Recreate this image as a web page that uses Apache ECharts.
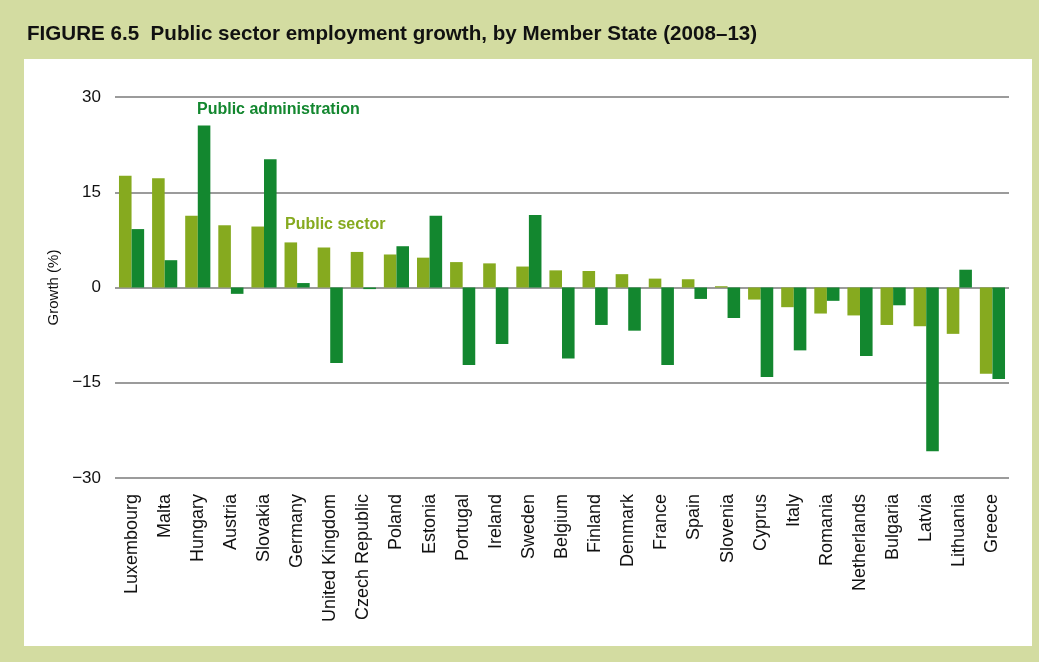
<!DOCTYPE html>
<html>
<head>
<meta charset="utf-8">
<script src="https://cdn.jsdelivr.net/npm/echarts@6/dist/echarts.min.js"></script>
<style>
  html, body { margin: 0; padding: 0; background: #d3dca1; }
  #main { width: 1039px; height: 662px; }
</style>
</head>
<body>
<div id="main"></div>
<script>
// 国家（类别）
var countries = ['Luxembourg', 'Malta', 'Hungary', 'Austria', 'Slovakia', 'Germany',
  'United Kingdom', 'Czech Republic', 'Poland', 'Estonia', 'Portugal', 'Ireland',
  'Sweden', 'Belgium', 'Finland', 'Denmark', 'France', 'Spain', 'Slovenia', 'Cyprus',
  'Italy', 'Romania', 'Netherlands', 'Bulgaria', 'Latvia', 'Lithuania', 'Greece']
// Public sector
var publicSector = [17.6, 17.2, 11.3, 9.8, 9.6, 7.1, 6.3, 5.6, 5.2, 4.7, 4.0, 3.8,
  3.3, 2.7, 2.6, 2.1, 1.4, 1.3, 0.2, -1.9, -3.1, -4.1, -4.4, -5.9, -6.1, -7.3, -13.6]
// Public administration
var publicAdmin = [9.2, 4.3, 25.5, -1.0, 20.2, 0.7, -11.9, -0.25, 6.5, 11.3, -12.2, -8.9,
  11.4, -11.2, -5.9, -6.8, -12.2, -1.8, -4.8, -14.1, -9.9, -2.1, -10.8, -2.8, -25.8, 2.8, -14.4]
// y轴刻度
var yTicks = [-30, -15, 0, 15, 30]

var chart = echarts.init(document.getElementById('main'))

var option = {
  animation: false,
  title: {
    text: 'FIGURE 6.5  Public sector employment growth, by Member State (2008\u201313)',
    left: 22,
    top: 19,
    textStyle: {
      fontFamily: 'Liberation Sans',
      fontWeight: 'bold',
      fontSize: 20.6,
      color: '#111'
    }
  },
  graphic: [
    // 白色面板
    {
      type: 'rect',
      z: -10,
      shape: { x: 24, y: 59, width: 1008, height: 587 },
      style: { fill: '#ffffff' }
    },
    {
      type: 'text',
      left: 197,
      top: 102,
      style: {
        text: 'Public administration',
        fill: '#13872f',
        font: 'bold 16px "Liberation Sans"'
      }
    },
    {
      type: 'text',
      left: 285,
      top: 217,
      style: {
        text: 'Public sector',
        fill: '#86aa1f',
        font: 'bold 16px "Liberation Sans"'
      }
    }
  ],
  grid: {
    left: 115,
    right: 30,
    top: 97,
    bottom: 184
  },
  xAxis: {
    type: 'category',
    data: countries,
    axisLine: { show: false, onZero: false },
    axisTick: { show: false },
    axisLabel: {
      rotate: 90,
      interval: 0,
      margin: 16,
      fontFamily: 'Liberation Sans',
      fontSize: 18,
      color: '#111'
    }
  },
  yAxis: {
    type: 'value',
    min: yTicks[0],
    max: yTicks[yTicks.length - 1],
    interval: 15,
    name: 'Growth (%)',
    nameLocation: 'middle',
    nameGap: 52,
    nameTextStyle: {
      fontFamily: 'Liberation Sans',
      fontSize: 15,
      color: '#111'
    },
    axisLine: { show: false },
    axisTick: { show: false },
    axisLabel: {
      margin: 14,
      fontFamily: 'Liberation Sans',
      fontSize: 17,
      color: '#111',
      formatter: function (v) { return v < 0 ? '\u2212' + Math.abs(v) : String(v) }
    },
    splitLine: { lineStyle: { color: '#7a7a7a', width: 1.5 } }
  },
  series: [
    {
      name: 'Public sector',
      type: 'bar',
      barWidth: '38%',
      barGap: '0%',
      itemStyle: { color: '#86aa1f' },
      data: publicSector
    },
    {
      name: 'Public administration',
      type: 'bar',
      barWidth: '38%',
      itemStyle: { color: '#13872f' },
      data: publicAdmin
    }
  ]
}

chart.setOption(option)
</script>
</body>
</html>
